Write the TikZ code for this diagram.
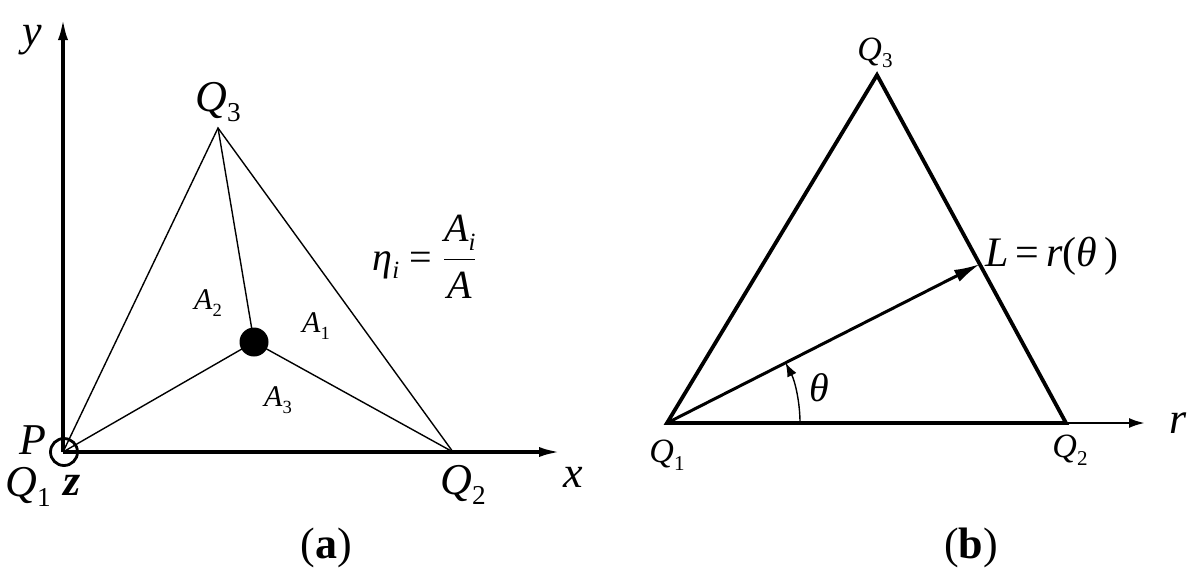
\documentclass[tikz,border=0pt]{standalone}
\usepackage{fontspec}
\setmainfont{Liberation Serif}
\usetikzlibrary{arrows.meta}
\newcommand{\sbu}[1]{\raisebox{-0.22em}{\scalebox{0.62}{\upshape #1}}}
\newcommand{\sbi}[1]{\raisebox{-0.22em}{\scalebox{0.62}{\itshape #1}}}
\begin{document}
\begin{tikzpicture}[x=0.5pt,y=-0.5pt,
  axis/.style={line width=1.8pt,-{Latex[length=11pt,width=5pt]}},
  thinln/.style={line width=0.7pt},
  thickln/.style={line width=1.9pt,line join=miter},
  biglbl/.style={inner sep=0pt,font=\fontsize{22}{26}\selectfont\itshape},
  midlbl/.style={inner sep=0pt,font=\fontsize{20}{24}\selectfont\itshape},
  smllbl/.style={inner sep=0pt,font=\fontsize{17}{20}\selectfont\itshape},
  arealbl/.style={inner sep=0pt,font=\fontsize{15}{18}\selectfont\itshape},
  caplbl/.style={inner sep=0pt,font=\fontsize{22}{26}\selectfont},
]
\useasboundingbox (0,0) rectangle (1198,578);

% ---------- panel (a) ----------
\coordinate (O) at (63,452);
\coordinate (Yend) at (63,18);
\coordinate (Xend) at (561,452);
\coordinate (QA3) at (218,128);
\coordinate (QA2) at (453,452);
\node[circle,fill=black,inner sep=0pt,minimum size=14.5pt] (D) at (254,342) {};
\node[circle,draw=black,line width=1.4pt,inner sep=0pt,minimum size=13.5pt] (P0) at (64,452) {};

\draw[thinln] (O) -- (QA3) -- (QA2);
\draw[thinln] (QA3) -- (D.center);
\draw[thinln] (O) -- (D.center) -- (QA2);
\draw[axis] (O) -- (Yend);
\draw[axis] (O) -- (Xend);

\node[biglbl] (ly) at (32,40) {y};
\node[biglbl] (lq3a) at (218,102) {Q\sbu{3}};
\node[biglbl] (lp) at (33,440) {P};
\node[biglbl] (lq1a) at (28,487) {Q\sbu{1}};
\node[biglbl] (lz) at (72,485) {\bfseries\itshape z};
\node[biglbl] (lx) at (573,477) {x};
\node[biglbl] (lq2a) at (463,485) {Q\sbu{2}};
\node[arealbl] (la2) at (208,303) {A\sbu{2}};
\node[arealbl] (la1) at (316,326) {A\sbu{1}};
\node[arealbl] (la3) at (278,400) {A\sbu{3}};
\node[midlbl,anchor=base west] (leta) at (372,270)
  {η\sbi{i} \upshape= \(\displaystyle\frac{\mbox{\itshape A\sbi{i}}}{\mbox{\itshape A}}\)};

\node[caplbl] (capa) at (326,548) {(\textbf{a})};

% ---------- panel (b) ----------
\coordinate (B1) at (667,423);
\coordinate (B2) at (1066,423);
\coordinate (B3) at (877,75);
\coordinate (BL) at (980,264);
\coordinate (Rend) at (1145,423);
\coordinate (ArcS) at (800,423);

\draw[thickln] (B1) -- (B3) -- (B2) -- cycle;
\draw[line width=1.2pt,-{Latex[length=8pt,width=5pt]}] (B2) -- (Rend);
\draw[line width=1.5pt,-{Latex[length=13pt,width=6.5pt]}] (B1) -- (BL);
\draw[line width=0.7pt,-{Latex[length=7pt,width=5pt]}] (ArcS) arc[start angle=0,end angle=-27,radius=133];

\node[smllbl] (lq3b) at (875,53) {Q\sbu{3}};
\node[smllbl] (lq1b) at (667,455) {Q\sbu{1}};
\node[smllbl] (lq2b) at (1070,450) {Q\sbu{2}};
\node[midlbl] (lth) at (819,388) {θ};
\node[biglbl] (lr) at (1178,423) {r};
\node[midlbl,anchor=west,font=\fontsize{21}{25}\selectfont\itshape] (lL) at (985,256) {L\,\upshape{=}\,\itshape r\upshape(\itshape θ\,\upshape)};

\node[caplbl] (capb) at (971,548) {(\textbf{b})};
\end{tikzpicture}
\end{document}
